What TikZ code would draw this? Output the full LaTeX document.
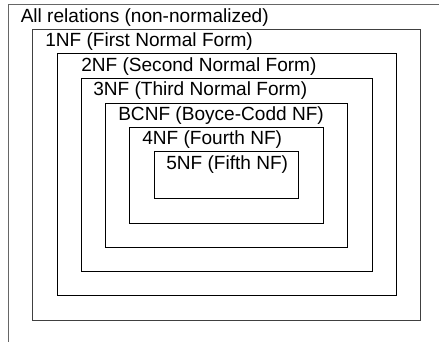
\documentclass[tikz,border=0pt]{standalone}
\usepackage{fontspec}
\setmainfont{Liberation Sans}

\begin{document}
\begin{tikzpicture}[x=0.75pt,y=-0.75pt,
	nfbox/.style={draw=black,line width=0.6pt},
	nflabel/.style={anchor=base west,inner sep=0pt,font=\fontsize{14.3}{17}\selectfont}]
	\clip (0,0) rectangle (439,342);
	\fill[white] (0,0) rectangle (439,342);
	
	% nested normal forms, outermost first
	\draw[nfbox,draw=black!60] (8,4) rectangle (470,370);
	\node[nflabel] (all) at (20.5,22.5) {All relations (non-normalized)};
	
	\draw[nfbox,draw=black!75] (32,29) rectangle (420,320);
	\node[nflabel] (nf1) at (45,47) {1NF (First Normal Form)};
	
	\draw[nfbox] (57,53) rectangle (396,295);
	\node[nflabel] (nf2) at (81,71.5) {2NF (Second Normal Form)};
	
	\draw[nfbox] (81,78) rectangle (372,271);
	\node[nflabel] (nf3) at (93,96) {3NF (Third Normal Form)};
	
	\draw[nfbox] (105,103) rectangle (347,247);
	\node[nflabel] (bcnf) at (118,120.5) {BCNF (Boyce-Codd NF)};
	
	\draw[nfbox] (129,127) rectangle (323,223);
	\node[nflabel] (nf4) at (142,145) {4NF (Fourth NF)};
	
	\draw[nfbox] (154,151) rectangle (298,198);
	\node[nflabel] (nf5) at (166,169.5) {5NF (Fifth NF)};
\end{tikzpicture}
\end{document}
